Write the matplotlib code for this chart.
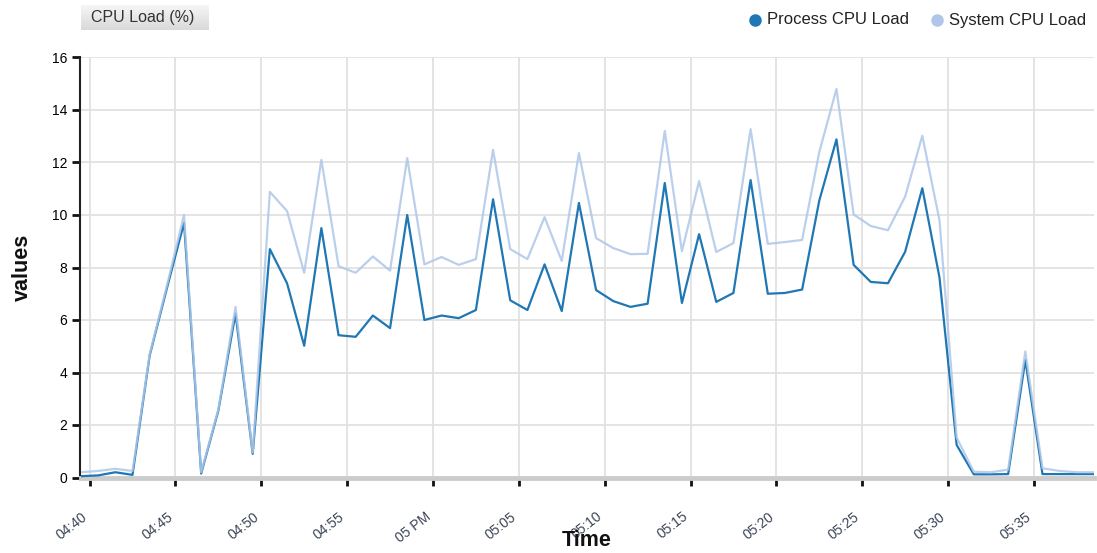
import numpy as np
import pandas as pd
import matplotlib
matplotlib.use("Agg")
import matplotlib.pyplot as plt
import matplotlib.dates as mdates
from matplotlib.lines import Line2D

plt.rcParams['font.family'] = ['Liberation Sans', 'DejaVu Sans']

# one sample per minute, starting 04:39:30 PM
start = pd.Timestamp("2024-01-01 16:39:30")
times = pd.date_range(start, periods=60, freq="1min")

process_load = [0.05, 0.08, 0.2, 0.1, 4.65, 7.2, 9.7, 0.15, 2.55, 6.25,
                0.9, 8.7, 7.4, 5.02, 9.5, 5.42, 5.36, 6.17, 5.69, 10.0,
                6.0, 6.17, 6.07, 6.38, 10.6, 6.75, 6.38, 8.12, 6.34, 10.46,
                7.14, 6.72, 6.5, 6.62, 11.22, 6.65, 9.27, 6.69, 7.03, 11.33,
                7.0, 7.03, 7.16, 10.55, 12.88, 8.1, 7.45, 7.4, 8.6, 11.02,
                7.62, 1.24, 0.12, 0.12, 0.13, 4.48, 0.13, 0.13, 0.13, 0.13]
system_load = [0.2, 0.25, 0.33, 0.25, 4.7, 7.3, 10.0, 0.2, 2.6, 6.5,
               0.95, 10.88, 10.15, 7.8, 12.1, 8.05, 7.8, 8.42, 7.88, 12.17,
               8.12, 8.4, 8.1, 8.32, 12.48, 8.7, 8.32, 9.92, 8.25, 12.36,
               9.12, 8.74, 8.51, 8.52, 13.2, 8.62, 11.29, 8.59, 8.93, 13.27,
               8.9, 8.97, 9.05, 12.4, 14.8, 10.02, 9.58, 9.42, 10.7, 13.02,
               9.8, 1.52, 0.22, 0.2, 0.3, 4.8, 0.35, 0.25, 0.2, 0.2]

tick_times = pd.date_range("2024-01-01 16:40", "2024-01-01 17:35", freq="5min")
tick_labels = ["04:40", "04:45", "04:50", "04:55", "05 PM", "05:05",
               "05:10", "05:15", "05:20", "05:25", "05:30", "05:35"]
y_ticks = [0, 2, 4, 6, 8, 10, 12, 14, 16]

W, H = 1097, 553
fig = plt.figure(figsize=(W / 100, H / 100), dpi=100)
ax = fig.add_axes([81 / W, (H - 477.5) / H, (1094 - 81) / W, (477.5 - 57.5) / H])

dark = '#1f77b4'
light = '#aec7e8'
ax.plot(times, process_load, color=dark, lw=1.6, zorder=3)
ax.plot(times, system_load, color=light, lw=1.6, alpha=0.85, zorder=4)

ax.set_xlim(times[0], times[-1])
ax.set_ylim(0, 16)
ax.set_yticks(y_ticks)
ax.set_yticklabels([str(v) for v in y_ticks], fontsize=9.5, fontweight='bold', color='#222')
ax.set_xticks(tick_times)
ax.set_xticklabels(tick_labels, rotation=38, ha='right', va='top',
                   fontsize=10, color='#3a4455')
ax.tick_params(axis='x', length=6, width=2, color='#111', pad=17)
ax.tick_params(axis='y', length=6, width=2, color='#111', pad=3)

ax.grid(True, color='#e2e2e2', lw=1.3)
ax.set_axisbelow(True)
for s in ['top', 'right']:
    ax.spines[s].set_visible(False)
ax.spines['left'].set_color('#222')
ax.spines['left'].set_linewidth(1.5)
ax.spines['left'].set_position(('outward', 1))
ax.spines['bottom'].set_color('#cccccc')
ax.spines['bottom'].set_linewidth(3.5)

fig.text(587 / W, 1 - 540 / H, "Time", ha='center', va='center',
         fontsize=15.5, fontweight='bold', color='#111')
fig.text(22 / W, 1 - 267 / H, "values", ha='center', va='center', rotation=90,
         fontsize=15.5, fontweight='bold', color='#111')

# title box with gradient
tax = fig.add_axes([81 / W, 1 - 30 / H, (209 - 81) / W, 25 / H])
grad = np.linspace(0, 1, 50).reshape(-1, 1)
tax.imshow(grad, aspect='auto', cmap=matplotlib.colors.LinearSegmentedColormap.from_list(
    'g', ['#f6f6f6', '#d9d9d9']), extent=[0, 1, 0, 1])
tax.set_axis_off()
fig.text(143 / W, 1 - 17.5 / H, "CPU Load (%)", ha='center', va='center',
         fontsize=11.5, color='#333')

# legend
for cx, col, label in [(755, dark, "Process CPU Load"), (937, light, "System CPU Load")]:
    fig.add_artist(Line2D([cx / W], [1 - 20 / H], marker='o', markersize=8,
                          color=col, transform=fig.transFigure, lw=0))
    fig.text((cx + 12) / W, 1 - 20 / H, label, ha='left', va='center',
             fontsize=12, color='#222')

fig.savefig("out.png", dpi=100)
